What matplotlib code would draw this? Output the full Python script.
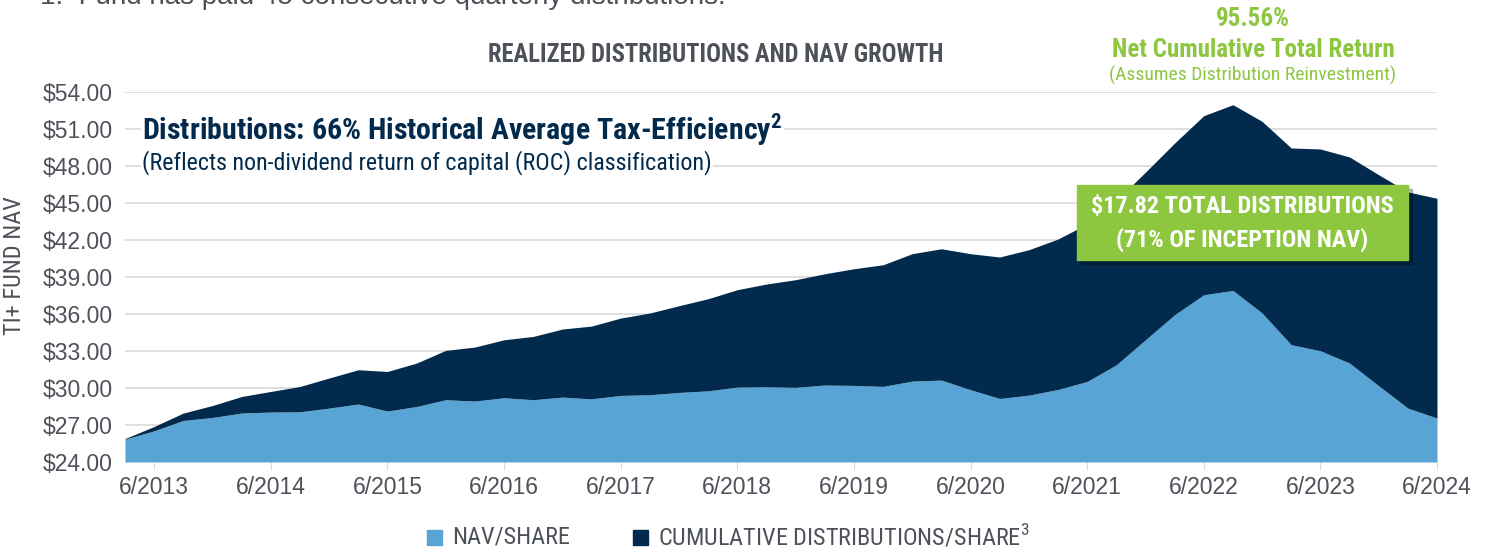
import matplotlib
matplotlib.use("Agg")
import matplotlib.pyplot as plt
import matplotlib.patches as mpatches
import numpy as np

# quarterly, 3/2013 .. 6/2024
quarters = np.arange(2013.0, 2024.26, 0.25)
nav = [25.85, 26.53, 27.37, 27.61, 27.97, 28.05, 28.07, 28.37, 28.70, 28.13,
       28.50, 29.05, 28.94, 29.21, 29.05, 29.26, 29.12, 29.40, 29.45, 29.64,
       29.77, 30.07, 30.10, 30.05, 30.24, 30.21, 30.13, 30.56, 30.64, 29.86,
       29.15, 29.42, 29.88, 30.53, 31.88, 33.91, 35.94, 37.56, 37.91, 36.08,
       33.51, 33.02, 32.02, 30.18, 28.37, 27.56]
cum_dist = [0.05, 0.35, 0.60, 0.97, 1.34, 1.67, 2.05, 2.44, 2.78, 3.21,
            3.52, 4.00, 4.38, 4.70, 5.13, 5.52, 5.90, 6.27, 6.63, 7.03,
            7.47, 7.90, 8.33, 8.73, 9.02, 9.46, 9.86, 10.33, 10.65, 11.03,
            11.47, 11.79, 12.20, 12.77, 13.32, 13.59, 13.92, 14.52, 15.06, 15.54,
            15.95, 16.36, 16.71, 17.11, 17.53, 17.82]
tick_years = list(range(2013, 2025))
tick_labels = ["6/%d" % y for y in tick_years]
series_names = ["NAV/SHARE", "CUMULATIVE DISTRIBUTIONS/SHARE"]

LIGHT = "#58a4d4"
NAVY = "#012a4c"
GREEN = "#8dc63f"
GREY = "#4d5159"
COND = ["Roboto Condensed", "Archivo Narrow", "DejaVu Sans"]

plt.rcParams["mathtext.fontset"] = "custom"
plt.rcParams["mathtext.rm"] = "Roboto Condensed"
plt.rcParams["mathtext.bf"] = "Roboto Condensed:bold"

W, H = 1492, 548
fig = plt.figure(figsize=(W / 100, H / 100), dpi=100)
ax = fig.add_axes([125 / W, 1 - 462 / H, (1437 - 125) / W, (462 - 92) / H])

nav = np.array(nav)
total = nav + np.array(cum_dist)
ax.fill_between(quarters, 24, nav, color=LIGHT, lw=0, zorder=3)
ax.fill_between(quarters, nav, total, color=NAVY, lw=0, zorder=3)

ax.set_xlim(quarters[0], quarters[-1])
ax.set_ylim(24, 54)
ax.set_yticks(np.arange(24, 54.1, 3))
ax.set_yticklabels(["$%.2f" % v for v in np.arange(24, 54.1, 3)])
ax.set_xticks([y + 0.25 for y in tick_years])
ax.set_xticklabels(tick_labels)
ax.grid(axis="y", color="#d9d9d9", lw=1.2, zorder=0)
for s in ax.spines.values():
    s.set_visible(False)
ax.tick_params(axis="y", length=0, pad=9, labelsize=16.5, labelcolor=GREY)
ax.tick_params(axis="x", length=6, color="#d9d9d9", pad=4, labelsize=16.5, labelcolor=GREY)
for lab in ax.get_xticklabels() + ax.get_yticklabels():
    lab.set_family("Liberation Sans")


def ftext(x, y, s, **kw):
    return fig.text(x / W, 1 - y / H, s, **kw)


ftext(40, 4, "1.  Fund has paid 45 consecutive quarterly distributions.", ha="left",
      va="baseline", fontsize=20, color=GREY, family="Liberation Sans")

ftext(15, 266, "TI+ FUND NAV", rotation=90, ha="center", va="center",
      fontsize=17.5, color=GREY, family=COND)
ftext(716, 55, "REALIZED DISTRIBUTIONS AND NAV GROWTH", ha="center", va="center",
      fontsize=17.7, fontweight="bold", color=GREY, family=COND)

ftext(1253, 19, "95.56%", ha="center", va="center", fontsize=18,
      fontweight="bold", color=GREEN, family=COND)
ftext(1253, 50, "Net Cumulative Total Return", ha="center", va="center", fontsize=18,
      fontweight="bold", color=GREEN, family=COND)
ftext(1253, 75, "(Assumes Distribution Reinvestment)", ha="center", va="center",
      fontsize=14, color=GREEN, family=COND)

ftext(142, 130, r"Distributions: 66% Historical Average Tax-Efficiency$^{\mathbf{2}}$",
      ha="left", va="center", fontsize=21.5, fontweight="bold", color=NAVY, family=COND,
      bbox=dict(facecolor="white", edgecolor="none", pad=1))
ftext(142, 163, "(Reflects non-dividend return of capital (ROC) classification)",
      ha="left", va="center", fontsize=17.3, color=NAVY, family=COND,
      bbox=dict(facecolor="white", edgecolor="none", pad=1))

# green callout box with shadow
bx0, by0, bx1, by1 = 1077, 185, 1408, 260
fig.patches.append(mpatches.Rectangle(((bx0 + 4) / W, 1 - (by1 + 4) / H),
                                      (bx1 - bx0) / W, (by1 - by0) / H,
                                      transform=fig.transFigure, color="#000000", alpha=0.25,
                                      zorder=5))
fig.patches.append(mpatches.Rectangle((bx0 / W, 1 - by1 / H), (bx1 - bx0) / W, (by1 - by0) / H,
                                      transform=fig.transFigure, color=GREEN, zorder=6))
ftext((bx0 + bx1) / 2, 207, "$17.82 TOTAL DISTRIBUTIONS", ha="center", va="center",
      fontsize=17.5, fontweight="bold", color="white", family=COND, zorder=7)
ftext((bx0 + bx1) / 2, 240, "(71% OF INCEPTION NAV)", ha="center", va="center",
      fontsize=17.5, fontweight="bold", color="white", family=COND, zorder=7)

# legend
for (x0, col, name) in [(427, LIGHT, series_names[0]), (633, NAVY, series_names[1] + "$^{3}$")]:
    fig.patches.append(mpatches.Rectangle((x0 / W, 1 - 545 / H), 15 / W, 15 / H,
                                          transform=fig.transFigure, color=col))
    ftext(x0 + 25, 537, name, ha="left", va="center", fontsize=17.5, color=GREY, family=COND)

fig.savefig("out.png", dpi=100)
